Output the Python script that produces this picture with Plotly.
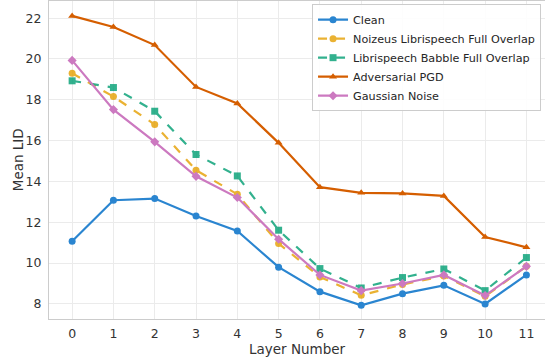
import plotly.graph_objects as go

layers = list(range(12))
clean = [11.07, 13.08, 13.16, 12.31, 11.57, 9.80, 8.60, 7.93, 8.50, 8.91, 8.00, 9.42]
noizeus = [19.30, 18.16, 16.79, 14.55, 13.37, 10.96, 9.32, 8.42, 8.95, 9.37, 8.37, 9.84]
babble = [18.93, 18.60, 17.44, 15.32, 14.27, 11.61, 9.73, 8.78, 9.29, 9.71, 8.65, 10.27]
adversarial = [22.11, 21.57, 20.68, 18.63, 17.82, 15.89, 13.72, 13.44, 13.41, 13.29, 11.28, 10.77]
gaussian = [19.93, 17.52, 15.94, 14.25, 13.21, 11.17, 9.42, 8.65, 9.00, 9.42, 8.41, 9.84]

series = [
    ("Clean", clean, "#2a85d0", "solid", "circle", 1.0),
    ("Noizeus Librispeech Full Overlap", noizeus, "#e69f00", "dash", "circle", 0.8),
    ("Librispeech Babble Full Overlap", babble, "#009e73", "dash", "square", 0.8),
    ("Adversarial PGD", adversarial, "#d55e00", "solid", "triangle-up", 1.0),
    ("Gaussian Noise", gaussian, "#cc79c0", "solid", "diamond", 1.0),
]

fig = go.Figure()
for name, vals, color, dash, sym, op in series:
    fig.add_trace(go.Scatter(
        x=layers, y=vals, name=name, mode="lines+markers",
        line=dict(color=color, width=2.2, dash=dash),
        marker=dict(symbol=sym, size=7, color=color),
        opacity=op,
    ))

fig.update_layout(
    width=545, height=360,
    margin=dict(l=49, r=0, t=1, b=41, autoexpand=False),
    plot_bgcolor="white", paper_bgcolor="white",
    font=dict(family="DejaVu Sans", size=12.5, color="#333333"),
    legend=dict(
        x=0.992, y=0.99, xanchor="right", yanchor="top",
        bgcolor="rgba(255,255,255,0.9)", bordercolor="#cccccc", borderwidth=1,
        font=dict(size=11.2, color="#262626"), tracegroupgap=0, itemwidth=30,
    ),
    xaxis=dict(
        range=[-0.56, 11.45], tickmode="array", tickvals=layers,
        ticktext=[str(i) for i in layers], automargin=False,
        showgrid=True, gridcolor="#ebebeb", gridwidth=1,
        showline=True, linecolor="#cccccc", linewidth=1.2, mirror=True,
        zeroline=False, ticks="outside", ticklen=3, tickcolor="white",
    ),
    yaxis=dict(
        range=[7.26, 22.84], tickmode="array", tickvals=[8, 10, 12, 14, 16, 18, 20, 22],
        automargin=False,
        showgrid=True, gridcolor="#ebebeb", gridwidth=1,
        showline=True, linecolor="#cccccc", linewidth=1.2, mirror=True,
        zeroline=False, ticks="outside", ticklen=4, tickcolor="white",
    ),
    annotations=[
        dict(text="Layer Number", xref="paper", yref="paper", x=0.5, y=-0.095,
             xanchor="center", yanchor="middle", showarrow=False,
             font=dict(size=13.5, color="#333333")),
        dict(text="Mean LID", xref="paper", yref="paper", x=-0.062, y=0.5,
             xanchor="center", yanchor="middle", showarrow=False, textangle=-90,
             font=dict(size=13.5, color="#333333")),
    ],
)

fig.write_html("out.html", config={"displayModeBar": False},
               post_script="document.body.style.margin='0px';")
